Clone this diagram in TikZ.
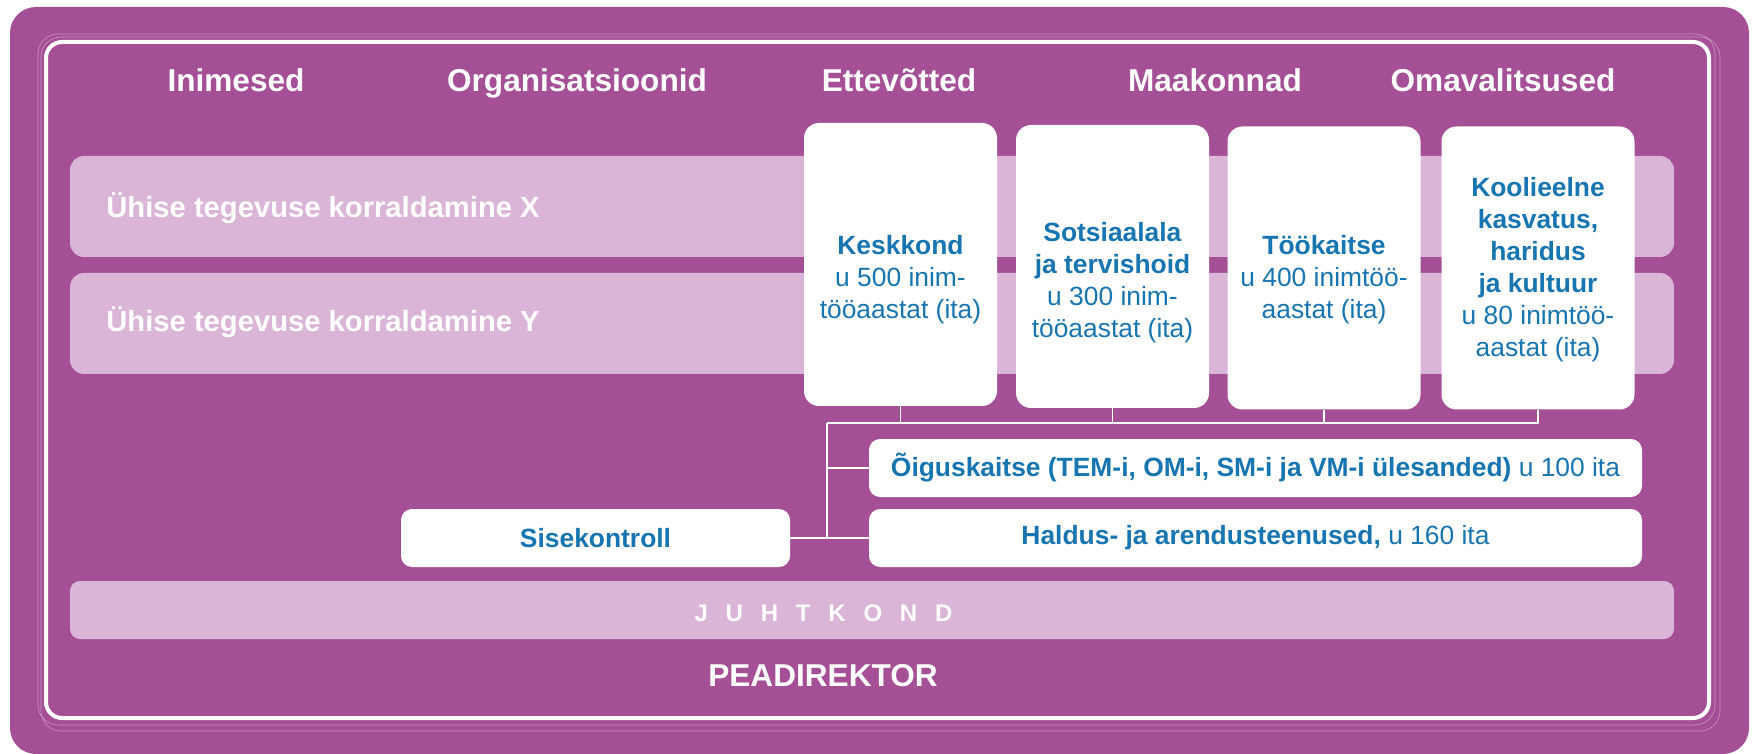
\documentclass[tikz,border=0pt]{standalone}
\usepackage{fontspec}
\setmainfont{Liberation Sans}
\usetikzlibrary{positioning}
\definecolor{orgpurple}{RGB}{165,79,151}
\definecolor{bandpink}{RGB}{219,181,215}
\definecolor{unitblue}{RGB}{23,117,177}
\newcommand{\lsp}{\hspace{8.9pt}}
\tikzset{
    head/.style={text=white, anchor=base, font=\bfseries\fontsize{15.8}{19}\selectfont},
    band/.style={fill=bandpink, rounded corners=7pt, minimum width=802pt, minimum height=50.5pt},
    bandtext/.style={text=white, anchor=base west, inner sep=0pt, font=\bfseries\fontsize{14.6}{18}\selectfont},
    unit/.style={fill=white, rounded corners=7.5pt, minimum width=96.5pt, minimum height=141.5pt},
    unittext/.style={text=unitblue, align=center, font=\fontsize{13.2}{16}\selectfont},
    wide/.style={fill=white, rounded corners=5.5pt, minimum height=29pt, text=unitblue, font=\fontsize{13.2}{16}\selectfont},
    link/.style={draw=white, line width=0.8pt},
    framethin/.style={draw=white, draw opacity=0.4, line width=0.3pt, rounded corners=10pt},
}

\begin{document}
\begin{tikzpicture}[x=0.5pt, y=-0.5pt]
    \useasboundingbox (0,0) rectangle (1752,754);

    % frame
    \fill[orgpurple, rounded corners=13pt] (10,7) rectangle (1749,754);
    \draw[framethin] (38,34) rectangle (1715,725);
    \draw[framethin] (41,37) rectangle (1720,731);
    \draw[white, line width=2pt, rounded corners=8pt] (46,42) rectangle (1709,718);

    % headers
    \node[head] (inimesed) at (236,92) {Inimesed};
    \node[head] (organisatsioonid) at (577,92) {Organisatsioonid};
    \node[head] (ettevotted) at (899,92) {Ettevõtted};
    \node[head] (maakonnad) at (1215,92) {Maakonnad};
    \node[head] (omavalitsused) at (1503,92) {Omavalitsused};

    % bands
    \node[band] (bandx) at (872,206.5) {};
    \node[band] (bandy) at (872,323.5) {};
    \node[bandtext] (bandx-t) at (106,218) {Ühise tegevuse korraldamine X};
    \node[bandtext] (bandy-t) at (106,332) {Ühise tegevuse korraldamine Y};

    % units
    \node[unit] (kesk) at (900.5,264.5) {};
    \node[unit] (sots) at (1112.5,266.5) {};
    \node[unit] (took) at (1324,268) {};
    \node[unit] (kool) at (1538,268) {};
    \node[unittext] (kesk-t) at (900.5,280) {\textbf{Keskkond}\\u 500 inim-\\tööaastat (ita)};
    \node[unittext] (sots-t) at (1112.5,283) {\textbf{Sotsiaalala}\\\textbf{ja tervishoid}\\u 300 inim-\\tööaastat (ita)};
    \node[unittext] (took-t) at (1324,280) {\textbf{Töökaitse}\\u 400 inimtöö-\\aastat (ita)};
    \node[unittext] (kool-t) at (1538,270) {\textbf{Koolieelne}\\\textbf{kasvatus,}\\\textbf{haridus}\\\textbf{ja kultuur}\\u 80 inimtöö-\\aastat (ita)};

    \node[wide, minimum width=386.5pt] (oigus) at (1255.5,468) {\textbf{Õiguskaitse (TEM-i, OM-i, SM-i ja VM-i ülesanded)} u 100 ita};
    \node[wide, minimum width=386.5pt] (haldus) at (1255.5,538) {\textbf{Haldus- ja arendusteenused,} u 160 ita};
    \node[wide, minimum width=194.5pt] (sise) at (595.5,538) {\textbf{Sisekontroll}};

    % connectors
    \coordinate (bus) at (827,423);
    \draw[link] (kesk.south) -- (kesk.south |- bus);
    \draw[link] (sots.south) -- (sots.south |- bus);
    \draw[link] (took.south) -- (took.south |- bus);
    \draw[link] (bus) -| (kool.south);
    \draw[link] (bus) |- (oigus.west);
    \draw[link] (bus) |- (haldus.west);
    \draw[link] (sise.east) -- (haldus.west);

    % management
    \node[band, minimum height=29pt, rounded corners=5pt] (juhtkond) at (872,610) {};
    \node[text=white, anchor=base, font=\bfseries\fontsize{12}{15}\selectfont] (juhtkond-t) at (823.5,621)
        {J\lsp U\lsp H\lsp T\lsp K\lsp O\lsp N\lsp D};
    \node[head] (peadirektor) at (823,686) {PEADIREKTOR};
\end{tikzpicture}
\end{document}
